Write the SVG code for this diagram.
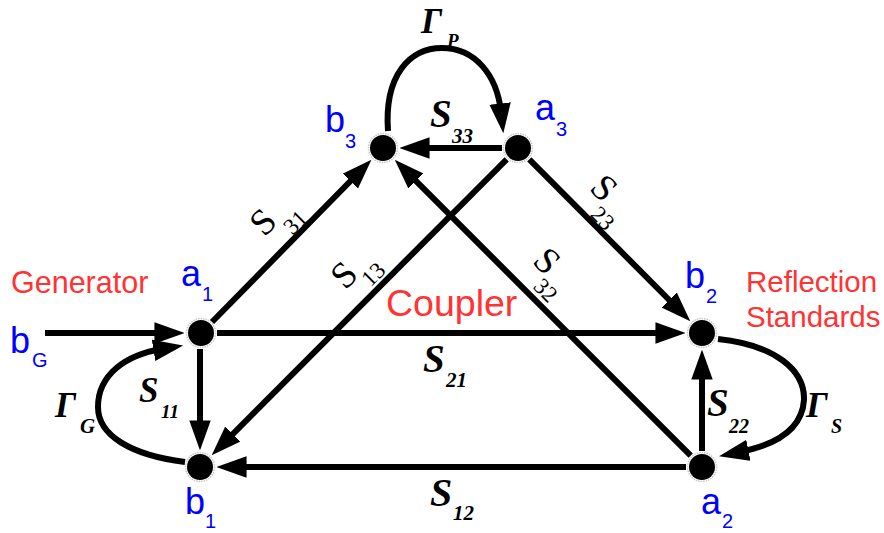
<svg xmlns="http://www.w3.org/2000/svg" width="884" height="533" viewBox="0 0 884 533">
<style>
.e{stroke:#000;stroke-width:6;fill:none;marker-end:url(#ah)}
.n{fill:#000}
.h{fill:none;stroke:#c8c8c8;stroke-width:1.5;stroke-dasharray:1.5 1}
.bl{font-family:"Liberation Sans",Arial,sans-serif;fill:#0000ff}
.rd{font-family:"Liberation Sans",Arial,sans-serif;fill:#ff3333}
.s{font-family:"Liberation Serif","Times New Roman",serif;font-style:italic;font-weight:bold;fill:#000}
.sb{font-family:"Liberation Serif","Times New Roman",serif;font-style:italic;font-weight:bold;fill:#000}
.r{font-family:"Liberation Serif","Times New Roman",serif;fill:#000}
</style>
<defs>
<marker id="ah" markerUnits="userSpaceOnUse" markerWidth="30" markerHeight="22" viewBox="0 0 28 20" refX="8" refY="10" orient="auto">
<path d="M0,0 L28,10 L0,20 z" fill="#000"/>
</marker>
</defs>
<g id="connectors">
<line id="e-bG-a1" class="e" x1="45" y1="333" x2="163" y2="333"/>
<line id="e-S21" class="e" x1="217" y1="333" x2="664" y2="333"/>
<line id="e-S12" class="e" x1="686" y1="467" x2="238" y2="467"/>
<line id="e-S11" class="e" x1="200" y1="349" x2="200" y2="429"/>
<line id="e-S22" class="e" x1="702" y1="451" x2="702" y2="371"/>
<line id="e-S33" class="e" x1="502" y1="148" x2="421" y2="148"/>
<line id="e-S31" class="e" x1="212" y1="322" x2="356.4" y2="175"/>
<line id="e-S13" class="e" x1="506.7" y1="159.3" x2="226.8" y2="440.1"/>
<line id="e-S32" class="e" x1="690.7" y1="455.7" x2="409.9" y2="174.9"/>
<line id="e-S23" class="e" x1="529.3" y1="159.3" x2="675.2" y2="306"/>
<path id="e-GP" class="e" d="M388,131 C384,75 410,48 442,48 C475,48 497,75 501,112"/>
<path id="e-GG" class="e" d="M185,462 C130,455 98,435 98,407 C98,375 125,355 162,349"/>
<path id="e-GS" class="e" d="M718,339 C775,345 805,370 804,400 C802,430 775,445 740,452"/>
</g>
<g id="b3"><circle class="h" cx="383" cy="148" r="14.5"/><circle class="n" cx="383" cy="148" r="13"/>
<text class="bl" x="325" y="132" font-size="36">b</text><text class="bl" x="345" y="148" font-size="20">3</text></g>
<g id="a3"><circle class="h" cx="518" cy="148" r="14.5"/><circle class="n" cx="518" cy="148" r="13"/>
<text class="bl" x="535" y="120" font-size="36">a</text><text class="bl" x="556" y="136" font-size="20">3</text></g>
<g id="a1"><circle class="h" cx="201" cy="333" r="14.5"/><circle class="n" cx="201" cy="333" r="13"/>
<text class="bl" x="181" y="286" font-size="36">a</text><text class="bl" x="202" y="301" font-size="20">1</text></g>
<g id="b1"><circle class="h" cx="200" cy="467" r="14.5"/><circle class="n" cx="200" cy="467" r="13"/>
<text class="bl" x="185" y="514" font-size="36">b</text><text class="bl" x="205" y="528" font-size="20">1</text></g>
<g id="b2"><circle class="h" cx="702" cy="333" r="14.5"/><circle class="n" cx="702" cy="333" r="13"/>
<text class="bl" x="685" y="288" font-size="36">b</text><text class="bl" x="706" y="303" font-size="20">2</text></g>
<g id="a2"><circle class="h" cx="702" cy="467" r="14.5"/><circle class="n" cx="702" cy="467" r="13"/>
<text class="bl" x="701" y="514" font-size="36">a</text><text class="bl" x="722" y="528" font-size="20">2</text></g>
<g id="bG"><text class="bl" x="10" y="353" font-size="36">b</text><text class="bl" x="32" y="367" font-size="20">G</text></g>
<g id="generator"><text class="rd" x="11" y="293" font-size="30.5">Generator</text></g>
<g id="coupler"><text class="rd" x="386" y="316" font-size="37.5">Coupler</text></g>
<g id="reflection"><text class="rd" x="746" y="292" font-size="29.5">Reflection</text><text class="rd" x="746" y="327" font-size="29.5">Standards</text></g>
<g id="labels">
<text class="s" x="423" y="372" font-size="39">S</text><text class="sb" x="446" y="387" font-size="21">21</text>
<text class="s" x="430" y="506" font-size="40">S</text><text class="sb" x="453" y="520" font-size="21">12</text>
<text class="s" x="430" y="127" font-size="39">S</text><text class="sb" x="452" y="143" font-size="21">33</text>
<text class="s" x="139" y="402" font-size="35">S</text><text class="sb" x="161" y="418" font-size="19">11</text>
<text class="s" x="707" y="416" font-size="39">S</text><text class="sb" x="729" y="433" font-size="20">22</text>
<text class="sb" x="421" y="33" font-size="35">Γ</text><text class="sb" x="447" y="47" font-size="19">P</text>
<text class="sb" x="55" y="417" font-size="35">Γ</text><text class="sb" x="80" y="433" font-size="21">G</text>
<text class="sb" x="806" y="417" font-size="36">Γ</text><text class="sb" x="831" y="433" font-size="20">S</text>
<text class="r" transform="translate(263,222) rotate(-45)" x="0" y="12" text-anchor="middle" font-size="37">S</text>
<text class="r" transform="translate(295,222) rotate(-45)" x="0" y="8" text-anchor="middle" font-size="23">31</text>
<text class="r" transform="translate(344,275) rotate(-45)" x="0" y="12" text-anchor="middle" font-size="37">S</text>
<text class="r" transform="translate(373,274) rotate(-45)" x="0" y="8" text-anchor="middle" font-size="23">13</text>
<text class="r" transform="translate(604,188) rotate(45)" x="0" y="12" text-anchor="middle" font-size="37">S</text>
<text class="r" transform="translate(603,218) rotate(45)" x="0" y="8" text-anchor="middle" font-size="23">23</text>
<text class="r" transform="translate(547,261) rotate(45)" x="0" y="12" text-anchor="middle" font-size="37">S</text>
<text class="r" transform="translate(546,290) rotate(45)" x="0" y="8" text-anchor="middle" font-size="23">32</text>
</g>
</svg>
